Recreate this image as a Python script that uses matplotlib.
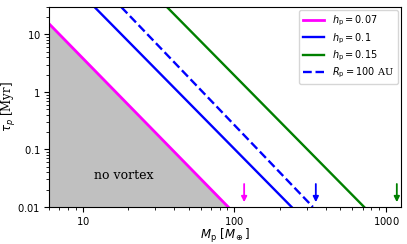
import numpy as np
import matplotlib
matplotlib.use("Agg")
import matplotlib.pyplot as plt
from matplotlib.ticker import FuncFormatter

plt.rcParams['font.family'] = 'DejaVu Serif'
plt.rcParams['mathtext.fontset'] = 'dejavusans'

# line end points: planet mass where each line
# crosses tau = 30 Myr (top) and tau = 0.01 Myr (bottom)
tau_ends = [30.0, 0.01]
m_h007 = [4.7, 91.0]
m_h01 = [12.0, 238.0]
m_h015 = [36.0, 715.0]
m_r100 = [18.0, 329.0]

# arrow positions (mass) on the x-axis
arrow_m = [116.0, 344.0, 1175.0]
arrow_col = ['magenta', 'blue', 'green']

fig = plt.figure(figsize=(4.07, 2.44), dpi=100)
ax = fig.add_axes([0.120, 0.152, 0.865, 0.819])

ax.fill_between(m_h007, tau_ends, [0.001, 0.001], color='silver', lw=0)
ax.plot(m_h007, tau_ends, color='magenta', lw=2, label=r'$h_{\rm p} = 0.07$')
ax.plot(m_h01, tau_ends, color='blue', lw=1.7, label=r'$h_{\rm p} = 0.1$')
ax.plot(m_h015, tau_ends, color='green', lw=1.7, label=r'$h_{\rm p} = 0.15$')
ax.plot(m_r100, tau_ends, color='blue', lw=1.7, ls='--',
        label=r'$R_{\rm p} = 100$ AU')

for m, c in zip(arrow_m, arrow_col):
    ax.annotate('', xy=(m, 0.0108), xytext=(m, 0.028),
                arrowprops=dict(arrowstyle='-|>', color=c, lw=1.3,
                                mutation_scale=8))

ax.text(18.8, 0.035, 'no vortex', ha='center', va='center', fontsize=9)

ax.set_xscale('log')
ax.set_yscale('log')
ax.set_xlim(6, 1250)
ax.set_ylim(0.01, 30)
fmt = FuncFormatter(lambda v, p: r'$%g$' % v)
ax.xaxis.set_major_formatter(fmt)
ax.yaxis.set_major_formatter(fmt)
ax.tick_params(labelsize=7.2, pad=2.5)
ax.set_xlabel(r'$M_{\rm p}\ [M_\oplus]$', fontsize=8.5, labelpad=0)
ax.set_ylabel(r'$\tau_p$ [Myr]', fontsize=8.5)
ax.yaxis.set_label_coords(-0.088, 0.5)
ax.legend(loc='upper right', fontsize=7, handlelength=2.2,
          labelspacing=0.3, borderaxespad=0.3)

fig.savefig('out.png', dpi=100)
